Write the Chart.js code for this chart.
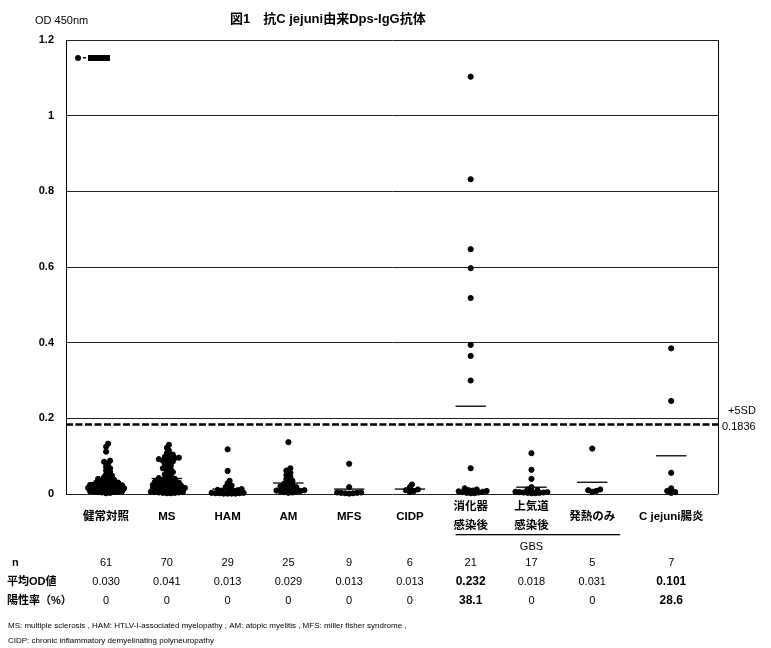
<!DOCTYPE html>
<html>
<head>
<meta charset="utf-8">
<script src="https://cdn.jsdelivr.net/npm/chart.js@4.4.0/dist/chart.umd.min.js"></script>
<style>
  html, body { margin: 0; padding: 0; background: #fff; }
  #wrap { position: relative; width: 771px; height: 648px; }
</style>
</head>
<body>
<div id="wrap"><canvas id="c" width="771" height="648"></canvas></div>
<script>
// categories (multi-line labels) and where each column sits on the x scale
var categories = [['健常対照'], ['MS'], ['HAM'], ['AM'], ['MFS'], ['CIDP'], ['消化器', '感染後'], ['上気道', '感染後'], ['発熱のみ'], ['C jejuni腸炎']];
var catPos = [0, 1, 2, 3, 4, 5, 6, 7, 8, 9.3];

// OD 450nm values
var healthy = [0.133, 0.125, 0.112, 0.088, 0.085, 0.080, 0.072, 0.068, 0.062, 0.058, 0.052, 0.048, 0.045, 0.042, 0.040, 0.038, 0.036, 0.034, 0.032, 0.030, 0.030, 0.028, 0.027, 0.026, 0.025, 0.024, 0.023, 0.022, 0.021, 0.020, 0.020, 0.019, 0.018, 0.017, 0.016, 0.016, 0.015, 0.015, 0.014, 0.013, 0.013, 0.012, 0.012, 0.011, 0.011, 0.010, 0.010, 0.010, 0.009, 0.009, 0.008, 0.008, 0.007, 0.007, 0.006, 0.006, 0.005, 0.005, 0.004, 0.003, 0.002];
var ms = [0.130, 0.122, 0.115, 0.108, 0.104, 0.100, 0.098, 0.096, 0.095, 0.093, 0.092, 0.090, 0.088, 0.086, 0.083, 0.080, 0.076, 0.072, 0.068, 0.065, 0.062, 0.058, 0.055, 0.052, 0.048, 0.045, 0.042, 0.040, 0.038, 0.036, 0.034, 0.032, 0.030, 0.029, 0.028, 0.027, 0.026, 0.025, 0.024, 0.023, 0.022, 0.021, 0.020, 0.019, 0.018, 0.017, 0.016, 0.015, 0.014, 0.013, 0.012, 0.011, 0.010, 0.010, 0.009, 0.009, 0.008, 0.008, 0.007, 0.007, 0.006, 0.006, 0.005, 0.005, 0.004, 0.004, 0.003, 0.003, 0.002, 0.002];
var ham = [0.118, 0.061, 0.035, 0.028, 0.022, 0.018, 0.015, 0.013, 0.011, 0.010, 0.009, 0.008, 0.007, 0.006, 0.006, 0.005, 0.005, 0.004, 0.004, 0.003, 0.003, 0.003, 0.002, 0.002, 0.002, 0.001, 0.001, 0.001, 0.001];
var am = [0.137, 0.068, 0.062, 0.056, 0.050, 0.045, 0.040, 0.035, 0.032, 0.028, 0.025, 0.022, 0.020, 0.018, 0.016, 0.014, 0.012, 0.010, 0.009, 0.008, 0.007, 0.006, 0.005, 0.004, 0.003];
var mfs = [0.080, 0.018, 0.004, 0.004, 0.003, 0.003, 0.002, 0.002, 0.001];
var cidp = [0.025, 0.018, 0.012, 0.010, 0.008, 0.005];
var gbsGut = [1.103, 0.832, 0.647, 0.597, 0.518, 0.394, 0.365, 0.300, 0.068, 0.015, 0.012, 0.010, 0.009, 0.008, 0.007, 0.006, 0.005, 0.004, 0.003, 0.002, 0.002];
var gbsResp = [0.108, 0.064, 0.040, 0.018, 0.012, 0.010, 0.008, 0.007, 0.006, 0.005, 0.005, 0.004, 0.004, 0.003, 0.003, 0.002, 0.002];
var gbsFever = [0.120, 0.012, 0.010, 0.008, 0.006];
var cjEnteritis = [0.385, 0.246, 0.056, 0.015, 0.008, 0.005, 0.003];
var groups = [healthy, ms, ham, am, mfs, cidp, gbsGut, gbsResp, gbsFever, cjEnteritis];

// table under the chart
var nCounts = ['61', '70', '29', '25', '9', '6', '21', '17', '5', '7'];
var meanOD = [0.030, 0.041, 0.013, 0.029, 0.013, 0.013, 0.232, 0.018, 0.031, 0.101];
var meanLabels = ['0.030', '0.041', '0.013', '0.029', '0.013', '0.013', '0.232', '0.018', '0.031', '0.101'];
var posRate = ['0', '0', '0', '0', '0', '0', '38.1', '0', '0', '28.6'];
var boldCols = [6, 9];

var cutoff = 0.1836;
var yMin = 0, yMax = 1.2, yStep = 0.2;
var xMin = -0.66, xMax = 10.07;

// simple deterministic beeswarm so overlapping dots spread sideways
function swarm(vals, center) {
  var kx = 60.8, ky = 378.5, dmin = 3.3, step = 2;
  var placed = [], out = [];
  vals.slice().sort(function(a, b) { return a - b; }).forEach(function(v) {
    var py = v * ky, best = 0;
    for (var k = 0; k < 10; k++) {
      var cands = k === 0 ? [0] : [k * step, -k * step];
      var ok = null;
      cands.forEach(function(px) {
        if (ok === null && placed.every(function(p) { return Math.hypot(p[0] - px, p[1] - py) >= dmin; })) ok = px;
      });
      if (ok !== null) { best = ok; break; }
    }
    placed.push([best, py]);
    out.push({ x: center + best / kx, y: v });
  });
  return out;
}

var datasets = [];
groups.forEach(function(vals, i) {
  datasets.push({
    type: 'scatter',
    data: swarm(vals, catPos[i]),
    backgroundColor: '#000',
    borderColor: '#000',
    pointRadius: 2.6,
    pointHoverRadius: 2.6,
    clip: false
  });
});
meanOD.forEach(function(m, i) {
  datasets.push({
    type: 'line',
    data: [{ x: catPos[i] - 0.25, y: m }, { x: catPos[i] + 0.25, y: m }],
    borderColor: '#000',
    borderWidth: 1.3,
    pointRadius: 0,
    clip: false
  });
});
datasets.push({
  type: 'line',
  data: [{ x: xMin, y: cutoff }, { x: xMax, y: cutoff }],
  borderColor: '#000',
  borderWidth: 2.6,
  borderDash: [7, 2.5],
  pointRadius: 0
});

var sans = '"Liberation Sans", Arial, sans-serif';
var jp = '"Liberation Sans", "Noto Sans CJK JP", sans-serif';

var extras = {
  id: 'extras',
  afterDraw: function(chart) {
    var ctx = chart.ctx, a = chart.chartArea, xs = chart.scales.x, ys = chart.scales.y;
    ctx.save();
    ctx.strokeStyle = '#000';
    ctx.lineWidth = 1;
    ctx.beginPath();
    ctx.moveTo(a.right + 0.5, a.top);
    ctx.lineTo(a.right + 0.5, a.bottom);
    ctx.stroke();

    ctx.fillStyle = '#000';
    ctx.textBaseline = 'middle';
    // title + axis unit
    ctx.textAlign = 'left';
    ctx.font = '11px ' + sans;
    ctx.fillText('OD 450nm', 35, 21);
    ctx.font = 'bold 13px ' + jp;
    ctx.fillText('図1　抗C jejuni由来Dps-IgG抗体', 230, 19);

    // legend remnant at top left
    ctx.beginPath();
    ctx.arc(78, 58, 3, 0, Math.PI * 2);
    ctx.fill();
    ctx.fillRect(83, 57, 3, 1.5);
    ctx.fillRect(88, 55, 22, 6);

    // cutoff labels
    var yc = ys.getPixelForValue(cutoff);
    ctx.font = '11px ' + sans;
    ctx.fillText('+5SD', a.right + 10, yc - 14);
    ctx.fillText('0.1836', a.right + 4, yc + 2);

    // category labels
    ctx.textAlign = 'center';
    ctx.font = 'bold 11.5px ' + jp;
    categories.forEach(function(lines, i) {
      var x = xs.getPixelForValue(catPos[i]);
      if (lines.length === 1) {
        ctx.fillText(lines[0], x, a.bottom + 23);
      } else {
        ctx.fillText(lines[0], x, a.bottom + 13);
        ctx.fillText(lines[1], x, a.bottom + 32);
      }
    });
    // GBS bracket
    var gx0 = xs.getPixelForValue(catPos[6]) - 15, gx1 = xs.getPixelForValue(catPos[8]) + 28;
    ctx.fillRect(gx0, a.bottom + 40, gx1 - gx0, 1.3);
    ctx.font = '11px ' + sans;
    ctx.fillText('GBS', xs.getPixelForValue(catPos[7]), a.bottom + 53);

    // table rows
    var rows = [['n', nCounts], ['平均OD値', meanLabels], ['陽性率（%）', posRate]];
    rows.forEach(function(r, k) {
      var y = a.bottom + 69 + k * 19;
      ctx.textAlign = 'left';
      ctx.font = 'bold 11px ' + jp;
      ctx.fillText(r[0], k === 0 ? 12 : 7, y);
      ctx.textAlign = 'center';
      r[1].forEach(function(t, i) {
        var bold = k > 0 && boldCols.indexOf(i) >= 0;
        ctx.font = (bold ? 'bold 12px ' : '11px ') + sans;
        ctx.fillText(t, xs.getPixelForValue(catPos[i]), y);
      });
    });

    // footnotes
    ctx.textAlign = 'left';
    ctx.font = '8px ' + sans;
    ctx.fillText('MS: multiple sclerosis , HAM: HTLV-I-associated myelopathy , AM: atopic myelitis , MFS: miller fisher syndrome ,', 8, 626);
    ctx.fillText('CIDP: chronic inflammatory demyelinating polyneuropathy', 8, 641);
    ctx.restore();
  }
};

new Chart(document.getElementById('c'), {
  type: 'scatter',
  data: { datasets: datasets },
  options: {
    responsive: false,
    animation: false,
    events: [],
    layout: { padding: { top: 40, right: 53, bottom: 154, left: 0 } },
    plugins: { legend: { display: false }, tooltip: { enabled: false }, title: { display: false } },
    scales: {
      x: { type: 'linear', display: false, min: xMin, max: xMax },
      y: {
        min: yMin,
        max: yMax,
        afterFit: function(s) { s.width = 66; },
        ticks: {
          stepSize: yStep,
          padding: 12,
          color: '#000',
          font: { family: sans, size: 11, weight: 'bold' },
          callback: function(v) { return String(Math.round(v * 10) / 10); }
        },
        grid: { color: '#222', lineWidth: 1, drawTicks: false },
        border: { display: true, color: '#000', width: 1 }
      }
    }
  },
  plugins: [extras]
});
</script>
</body>
</html>
